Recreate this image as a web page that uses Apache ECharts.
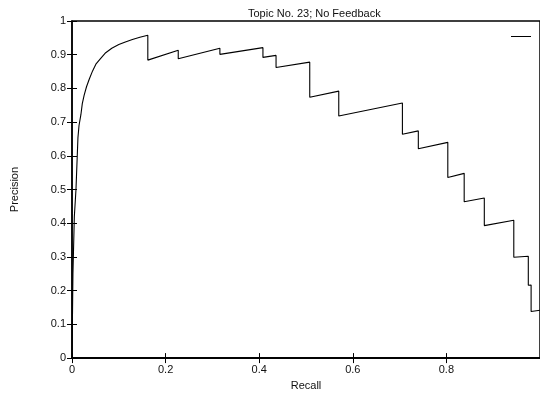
<!DOCTYPE html>
<html>
<head>
<meta charset="utf-8">
<script src="https://cdn.jsdelivr.net/npm/echarts@6/dist/echarts.min.js"></script>
<style>
  html, body { margin: 0; padding: 0; background: #fff; }
  #chart { width: 540px; height: 396px; }
</style>
</head>
<body>
<div id="chart"></div>
<script>
// recall / precision points
const recall = [
  0, 0.002, 0.005, 0.0085, 0.0127, 0.015, 0.019, 0.022, 0.026, 0.031, 0.037, 0.044,
  0.051, 0.060, 0.072, 0.085, 0.100, 0.114, 0.129, 0.145, 0.162,
  0.162, 0.227, 0.227, 0.316, 0.316, 0.408, 0.408, 0.436, 0.436, 0.508, 0.508,
  0.570, 0.570, 0.706, 0.706, 0.740, 0.740, 0.803, 0.803, 0.838, 0.838,
  0.881, 0.881, 0.944, 0.944, 0.975, 0.975, 0.981, 0.981, 1.0
];
const precision = [
  0, 0.25, 0.42, 0.50, 0.654, 0.690, 0.722, 0.755, 0.780, 0.805, 0.828, 0.852,
  0.872, 0.887, 0.906, 0.919, 0.930, 0.938, 0.945, 0.952, 0.958,
  0.884, 0.913, 0.888, 0.919, 0.901, 0.921, 0.892, 0.898, 0.862, 0.878, 0.774,
  0.792, 0.718, 0.757, 0.664, 0.674, 0.621, 0.640, 0.536, 0.548, 0.464,
  0.475, 0.393, 0.409, 0.299, 0.302, 0.216, 0.217, 0.138, 0.142
];
const xTicks = [0, 0.2, 0.4, 0.6, 0.8, 1];
const yTicks = [0, 0.1, 0.2, 0.3, 0.4, 0.5, 0.6, 0.7, 0.8, 0.9, 1];

const font = 'Liberation Sans, Arial, sans-serif';
const chart = echarts.init(document.getElementById('chart'));

const tickStyle = { show: true, inside: true, length: 5, lineStyle: { color: '#000', width: 1 } };

chart.setOption({
  animation: false,
  title: {
    text: 'Topic No. 23; No Feedback',
    left: 243,
    top: 3,
    textStyle: { fontFamily: font, fontSize: 11, fontWeight: 'normal', color: '#111' },
  },
  legend: {
    right: 4,
    top: 31,
    align: 'right',
    itemWidth: 20,
    itemHeight: 1,
    itemGap: 0,
    icon: 'rect',
    textStyle: { fontSize: 1 },
    data: [' '],
  },
  grid: {
    left: 72,
    right: -3,
    top: 21,
    bottom: 31,
    show: true,
    borderColor: '#000',
    borderWidth: 1.5,
  },
  xAxis: [
    {
      type: 'value',
      min: xTicks[0],
      max: xTicks[xTicks.length - 1],
      interval: 0.2,
      name: 'Recall',
      nameLocation: 'middle',
      nameGap: 19,
      nameTextStyle: { fontFamily: font, fontSize: 11, color: '#111' },
      axisLine: { show: true, lineStyle: { color: '#000', width: 1.5 } },
      axisTick: tickStyle,
      axisLabel: {
        margin: 6,
        showMaxLabel: false,
        fontFamily: font,
        fontSize: 11,
        color: '#111',
      },
      splitLine: { show: false },
    },
    {
      type: 'value',
      position: 'top',
      min: 0,
      max: 1,
      interval: 0.2,
      axisLine: { show: true, lineStyle: { color: '#000', width: 1.5 } },
      axisTick: tickStyle,
      axisLabel: { show: false },
      splitLine: { show: false },
    },
  ],
  yAxis: [
    {
      type: 'value',
      min: yTicks[0],
      max: yTicks[yTicks.length - 1],
      interval: 0.1,
      name: 'Precision',
      nameLocation: 'middle',
      nameGap: 52,
      nameTextStyle: { fontFamily: font, fontSize: 11, color: '#111' },
      axisLine: { show: true, lineStyle: { color: '#000', width: 1.5 } },
      axisTick: tickStyle,
      axisLabel: { margin: 6, fontFamily: font, fontSize: 11, color: '#111' },
      splitLine: { show: false },
    },
    {
      type: 'value',
      position: 'right',
      min: 0,
      max: 1,
      interval: 0.1,
      axisLine: { show: false },
      axisTick: tickStyle,
      axisLabel: { show: false },
      splitLine: { show: false },
    },
  ],
  series: [
    {
      name: ' ',
      type: 'line',
      showSymbol: false,
      symbol: 'none',
      color: '#000',
      lineStyle: { color: '#000', width: 1.1 },
      data: recall.map((r, i) => [r, precision[i]]),
    },
  ],
});
</script>
</body>
</html>
